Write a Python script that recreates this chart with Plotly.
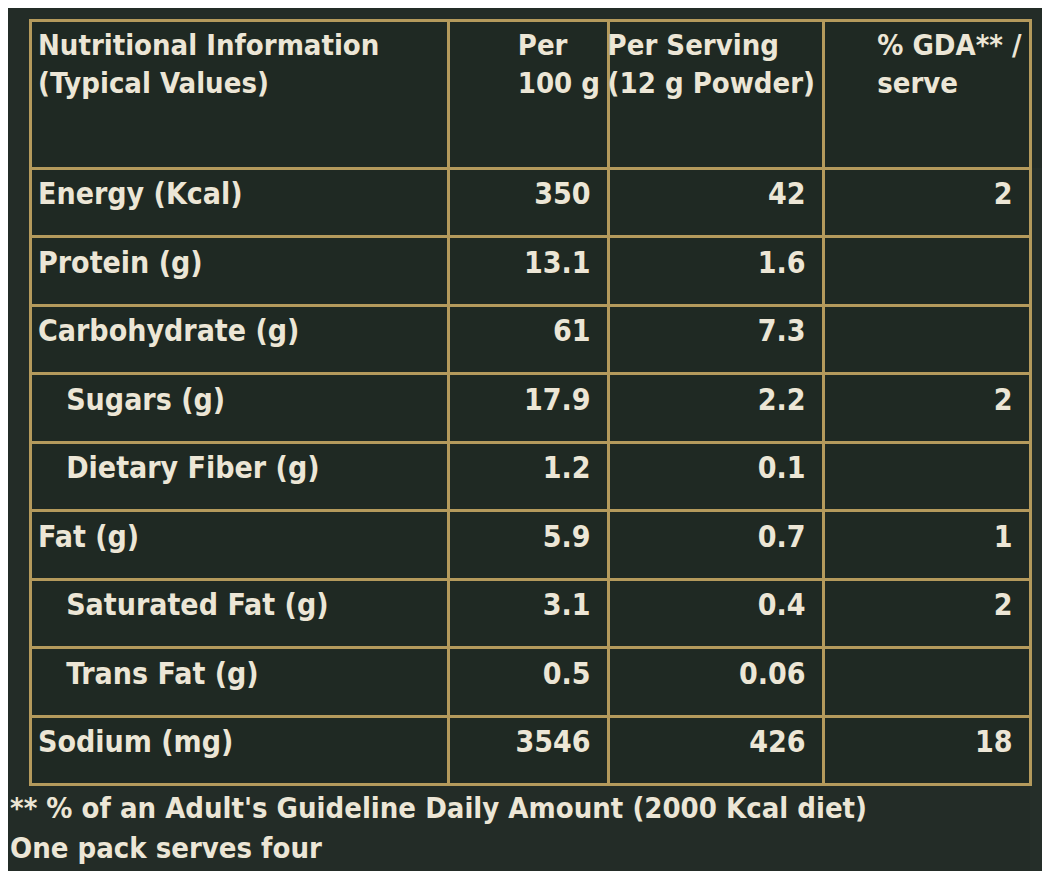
import plotly.graph_objects as go

# ── Данные ────────────────────────────────────────────────────────────────────
nutrients = ["Energy (Kcal)", "Protein (g)", "Carbohydrate (g)", "Sugars (g)",
             "Dietary Fiber (g)", "Fat (g)", "Saturated Fat (g)", "Trans Fat (g)",
             "Sodium (mg)"]
indent = [False, False, False, True, True, False, True, True, False]
per_100g = ["350", "13.1", "61", "17.9", "1.2", "5.9", "3.1", "0.5", "3546"]
per_serving = ["42", "1.6", "7.3", "2.2", "0.1", "0.7", "0.4", "0.06", "426"]
gda = ["2", "", "", "2", "", "1", "2", "", "18"]
headers = ["Nutritional Information<br>(Typical Values)", "Per<br>100 g",
           "Per Serving<br>(12 g Powder)", "% GDA** /<br>serve"]

BG = "#232c27"
CELL = "#1f2923"
GOLD = "#b49a5c"
TXT = "#ece6d6"
FONT = "DejaVu Sans Condensed, Liberation Sans Narrow, sans-serif"

labels = [("\u00a0\u00a0\u00a0" + n) if ind else n for n, ind in zip(nutrients, indent)]
pad = "\u00a0"
fig = go.Figure(go.Table(
    columnwidth=[418, 160, 215, 207],
    header=dict(
        values=[f"<b>{h}</b>" for h in headers],
        fill_color=CELL, line=dict(color=GOLD, width=3),
        font=dict(family=FONT, size=29, color=TXT),
        align=["left", "right", "right", "right"], height=148,
    ),
    cells=dict(
        values=[[f"<b>{v}</b>" for v in labels],
                [f"<b>{v}{pad}</b>" for v in per_100g],
                [f"<b>{v}{pad}</b>" for v in per_serving],
                [f"<b>{v}{pad}</b>" if v else "" for v in gda]],
        fill_color=CELL, line=dict(color=GOLD, width=3),
        font=dict(family=FONT, size=30, color=TXT),
        align=["left", "right", "right", "right"], height=68.5,
    ),
    domain=dict(x=[22 / 1050, 1022 / 1050], y=[0, 1 - 12 / 871]),
))

fig.update_layout(
    width=1050, height=871, margin=dict(l=0, r=0, t=0, b=0),
    paper_bgcolor=BG, plot_bgcolor=BG,
    annotations=[
        dict(x=0.0, y=1 - 800 / 871, xref="paper", yref="paper", xanchor="left",
             yanchor="middle", showarrow=False,
             text="<b>** % of an Adult's Guideline Daily Amount (2000 Kcal diet)</b>",
             font=dict(family=FONT, size=29, color=TXT)),
        dict(x=0.0, y=1 - 840 / 871, xref="paper", yref="paper", xanchor="left",
             yanchor="middle", showarrow=False, text="<b>One pack serves four</b>",
             font=dict(family=FONT, size=29, color=TXT)),
    ],
)
fig.write_html("out.html")
